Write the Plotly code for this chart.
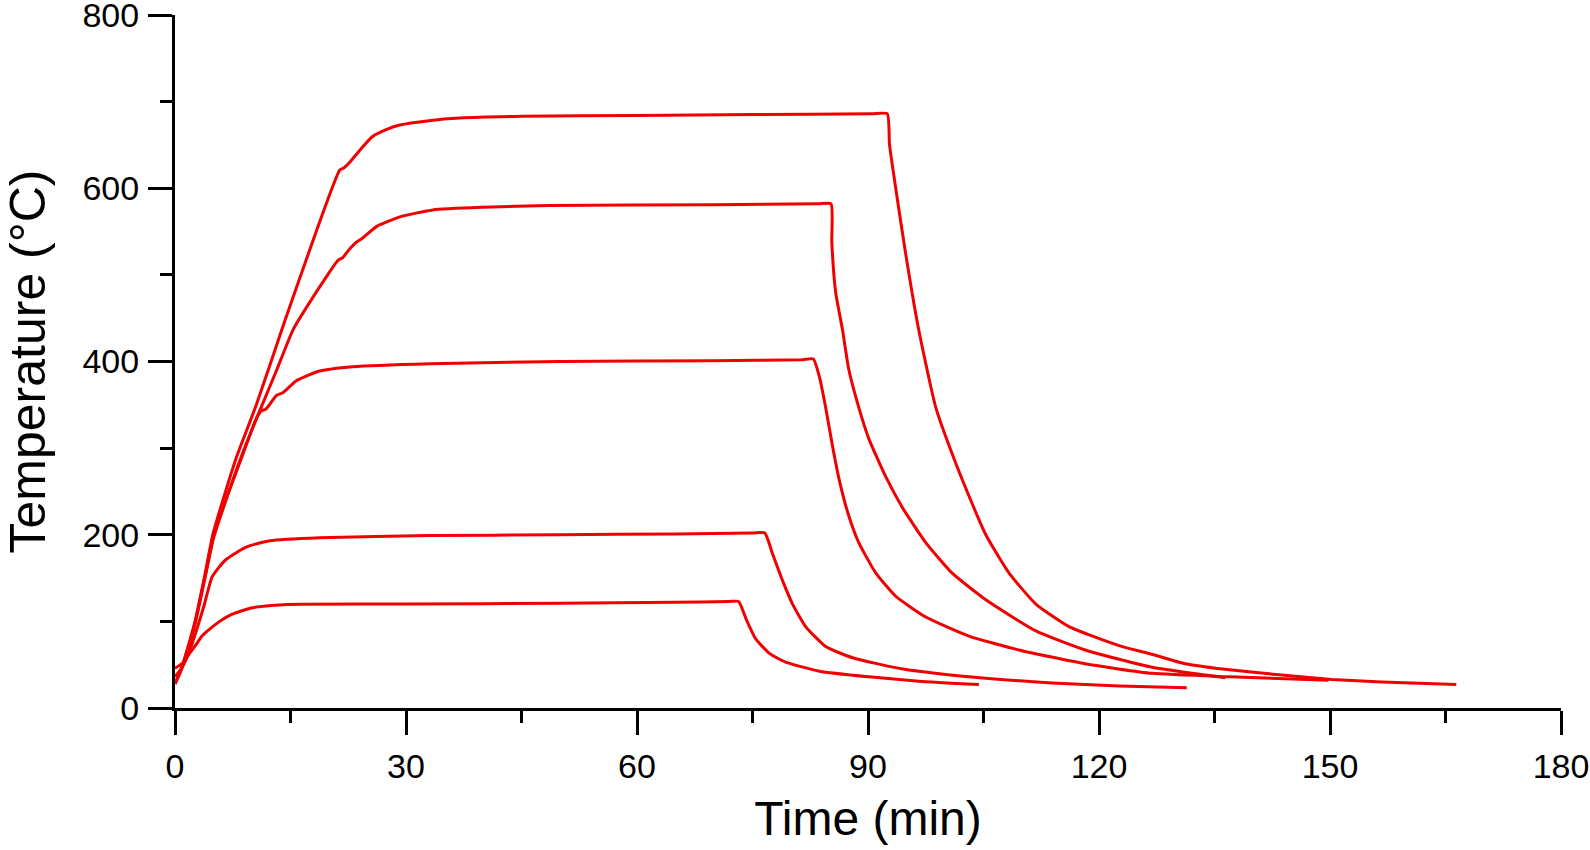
"""Plot temperature history

Heating / holding / cooling curves for five target temperatures.
"""

import plotly.graph_objs as go

# time (min) and temperature (C) read for each run
t_686 = [0, 0.8, 1.6, 2.6, 3.8, 4.9, 6.4, 8.0, 10.6, 14.0, 17.5, 21.4, 22.0, 22.7, 24.0, 25.7,
         27.5, 29.2, 33, 37, 45, 60, 75, 90.5, 92.5, 92.8, 94.9, 96.6, 98.8, 100.9, 103.1, 105.3,
         108.3, 111.8, 116.1, 122.6, 126.5, 131.2, 135.1, 143.7, 150.2, 156.7, 166.4]
T_686 = [28, 45, 68, 100, 150, 200, 245, 290, 351, 440, 529, 621, 624, 630, 644, 660,
         668, 673, 678, 681, 683, 684, 685, 686, 686, 650, 524, 436, 347, 294, 245, 200,
         156, 120, 94, 72, 63, 51, 46, 38, 33, 30, 27]

t_582 = [0, 0.8, 1.6, 2.6, 3.8, 5.0, 6.8, 8.9, 11.0, 13.2, 15.3, 18.2, 21.2, 21.8, 22.5, 23.6,
         24.3, 26.2, 29.2, 33.5, 40, 48.6, 70, 83.5, 85.2, 85.3, 85.8, 86.7, 87.5, 88.8, 90.1, 92.3,
         94.5, 97.5, 100.9, 105.3, 111.8, 118.2, 126.9, 136.4]
T_582 = [28, 44, 66, 97, 146, 196, 245, 297, 343, 390, 436, 478, 517, 520, 528, 538,
         542, 556, 567, 575, 578, 580, 581, 582, 582, 538, 480, 436, 391, 347, 311, 267,
         231, 191, 156, 125, 89, 67, 47, 35]

t_402 = [0, 0.8, 1.6, 2.6, 3.8, 5.0, 6.8, 8.9, 10.5, 11.2, 11.8, 13.2, 14.0, 15.8, 18.8, 23.1,
         33.1, 50, 70, 81.5, 82.9, 83.7, 84.5, 85.4, 86.3, 87.5, 88.8, 91, 93.6, 97.5, 103.1,
         109.6, 118.2, 126.9, 137, 149.8]
T_402 = [28, 44, 66, 98, 148, 198, 245, 295, 333, 343, 345, 361, 364, 378, 389, 394,
         397.5, 400, 401, 402, 403, 382, 347, 302, 262, 222, 191, 156, 129, 105, 83,
         67, 51, 40, 36, 32]

t_202 = [0, 1.0, 1.9, 2.8, 3.7, 4.8, 5.5, 6.7, 9.3, 12.3, 18.8, 33, 50, 65, 75, 76.6, 77.6,
         78.9, 80.2, 81.9, 84.5, 88, 94.5, 103.1, 113.9, 122.6, 131.4]
T_202 = [36, 48, 66, 90, 116, 151, 160, 172, 186, 193, 196.5, 199, 200, 201, 202, 202, 178,
         147, 120, 94, 71, 58, 45, 36, 29, 25.5, 23.5]

t_123 = [0, 1.0, 1.8, 2.8, 3.5, 4.5, 5.8, 7.1, 8.6, 10.2, 14.5, 30, 50, 65, 72, 73.2, 74.2,
         75.4, 77.2, 79.3, 83.7, 90.1, 96.6, 104.4]
T_123 = [46, 52, 62, 74, 83, 91, 100, 107, 112, 116, 119.5, 120, 121, 122, 123, 123, 102,
         80, 63, 53, 42.5, 36, 31, 27]

x_ticks = [0, 30, 60, 90, 120, 150, 180]
y_ticks = [0, 200, 400, 600, 800]

FONT = 'Arial, Liberation Sans, sans-serif'
#---------------------------------------------------------------------------------->
def _axis(title, title_size, rng, ticks, minor_step, standoff):
    return dict(title=dict(text=title, font=dict(size=title_size, color='black'),
                           standoff=standoff),
                range=rng, tickvals=ticks, ticks='outside', ticklen=24, tickwidth=3,
                tickcolor='black', tickfont=dict(size=34, color='black'),
                ticklabeloverflow='allow', ticklabelstandoff=2,
                showline=True, linewidth=3, linecolor='black',
                showgrid=False, zeroline=False, automargin=False,
                minor=dict(dtick=minor_step, ticks='outside', ticklen=12,
                           tickwidth=3, tickcolor='black', showgrid=False))
#---------------------------------------------------------------------------------->
data = []
for t, T in [(t_686, T_686), (t_582, T_582), (t_402, T_402), (t_202, T_202), (t_123, T_123)]:
    data.append(go.Scatter(x=t, y=T, mode='lines', showlegend=False, cliponaxis=False,
                           line=dict(color='#f00000', width=3, shape='spline', smoothing=0.5)))

layout = go.Layout(width=1590, height=850,
                   margin=dict(l=175, r=29, t=15, b=142),
                   plot_bgcolor='white', paper_bgcolor='white',
                   font=dict(family=FONT, color='black'),
                   xaxis=_axis('Time (min)', 48, [0, 180], x_ticks, 15, 18),
                   yaxis=_axis('Temperature (°C)', 50, [0, 800], y_ticks, 100, 24))

fig = go.Figure(data=data, layout=layout)
# drop the default 8px body margin so the figure fills the window
fig.write_html("out.html", config={'displayModeBar': False},
               post_script="document.body.style.margin = '0';")
